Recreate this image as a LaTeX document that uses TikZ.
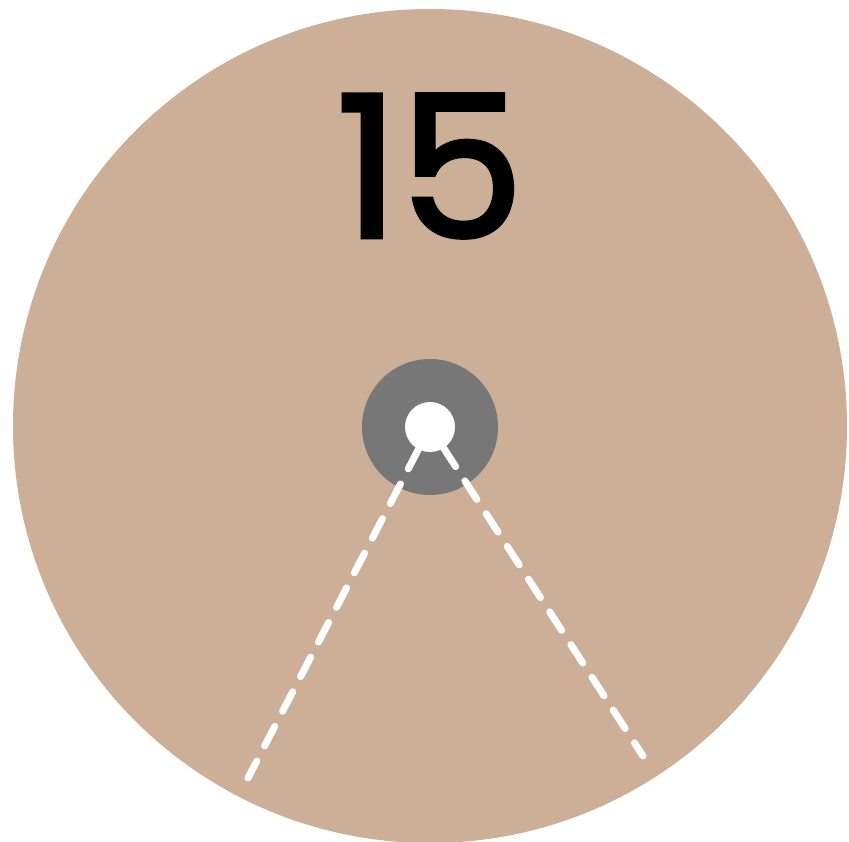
\documentclass[tikz,border=0pt]{standalone}
\usepackage{fontspec}
\setmainfont{Poppins}
\newfontfamily\numfont[FakeBold=2]{Poppins}
\definecolor{discTan}{RGB}{205,174,151}
\definecolor{hubGrey}{RGB}{119,119,119}

\begin{document}
\begin{tikzpicture}[x=1pt,y=-1pt]
\tikzset{
  disk/.style={circle, inner sep=0pt, draw=none},
  cutline/.style={white, line width=7pt, line cap=round, dash pattern=on 22pt off 17pt}
}
\useasboundingbox (0,0) rectangle (849,842);
\node[disk, fill=discTan, minimum size=834pt] (disc) at (430,426) {};
\node[font=\numfont\fontsize{198}{198}\selectfont] (number) at (430,166) {15};
\node[disk, fill=hubGrey, minimum size=136pt] (hub) at (430,427) {};
\node[disk, fill=white, minimum size=50pt] (hole) at (430,427) {};
\coordinate (leftend) at (248,778);
\coordinate (rightend) at (643,756);
\draw[cutline] (hole) -- (leftend);
\draw[cutline] (hole) -- (rightend);
\end{tikzpicture}
\end{document}
